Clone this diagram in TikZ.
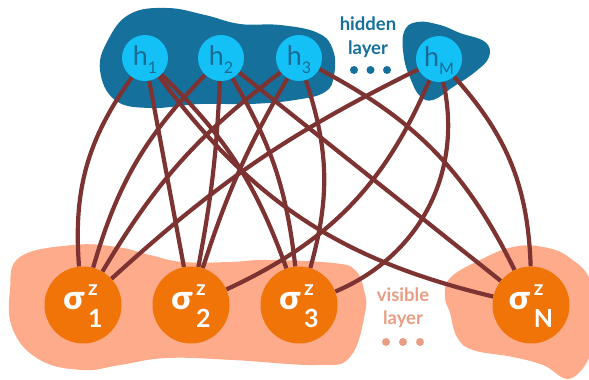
\documentclass[tikz,border=0pt]{standalone}
\usepackage{fontspec}
\setmainfont{Lato}
\newfontfamily\sigmafont{Lato Black}
\usetikzlibrary{backgrounds}
\definecolor{hidblue}{HTML}{15709C}
\definecolor{hidcyan}{HTML}{14C1F7}
\definecolor{htext}{HTML}{1B6C95}
\definecolor{vissalmon}{HTML}{FDAB8B}
\definecolor{visorange}{HTML}{F07407}
\definecolor{vistext}{HTML}{E99D82}
\definecolor{linkred}{HTML}{7D3331}
\newcommand{\hlab}[1]{\smash{\raisebox{-7pt}{\fontsize{27}{27}\selectfont h\raisebox{-8pt}{\fontsize{16}{16}\selectfont #1}}}}
\newcommand{\slab}[1]{\smash{\raisebox{-4pt}{{\sigmafont\fontsize{33}{33}\selectfont σ}\kern4pt\rlap{\raisebox{14pt}{\fontsize{21}{21}\selectfont\bfseries z}}\raisebox{-18pt}{\fontsize{25}{25}\selectfont\bfseries #1}}}}
\begin{document}
\begin{tikzpicture}[x=1pt,y=-1pt, every node/.style={inner sep=0pt},
    hidnode/.style={circle, fill=hidcyan, minimum size=46pt, text=htext},
    visnode/.style={circle, fill=visorange, minimum size=77pt, text=white},
    link/.style={draw=linkred, line width=4.2pt}]
    \useasboundingbox (0,0) rectangle (589,380);
    \node[hidnode] (h1) at (145,58) {\hlab{1}};
    \node[hidnode] (h2) at (221,58) {\hlab{2}};
    \node[hidnode] (h3) at (299,58) {\hlab{3}};
    \node[hidnode] (hM) at (439,59) {\hlab{M}};
    \node[visnode] (s1) at (83,305) {\slab{1}};
    \node[visnode] (s2) at (191,305) {\slab{2}};
    \node[visnode] (s3) at (299,305) {\slab{3}};
    \node[visnode] (sN) at (531,305) {\slab{N}};
    \node[font=\bfseries\fontsize{18.5}{24}\selectfont, text=hidblue, align=center] (hidlab) at (368,37) {hidden\\layer};
    \node[font=\bfseries\fontsize{18.5}{23}\selectfont, text=vistext, align=center] (vislab) at (403,308) {visible\\layer};
    \fill[hidblue] (354,70) circle (4pt) (370.5,70) circle (4pt) (387,70) circle (4pt);
    \fill[vistext] (386,342) circle (4pt) (403,342) circle (4pt) (420,342) circle (4pt);
    \begin{scope}[on background layer]
    \fill[hidblue] plot[smooth cycle, tension=0.7] coordinates {(100,70) (108,40) (130,14) (167,8) (205,15) (240,24) (280,25) (318,33) (333,50) (334,75) (325,92) (295,100) (250,104) (200,104) (150,108) (115,100)};
    \fill[hidblue] plot[smooth cycle, tension=0.7] coordinates {(404,32) (417,22) (440,25) (460,33) (485,42) (489,57) (475,72) (453,87) (433,100) (420,96) (411,80) (404,58)};
    \fill[vissalmon] plot[smooth cycle, tension=0.7] coordinates {(10,290) (20,257) (73,245) (117,247) (150,255) (183,262) (230,262) (267,260) (333,263) (355,270) (364,290) (365,313) (350,357) (317,365) (233,360) (167,358) (120,365) (83,370) (40,360) (13,330)};
    \fill[vissalmon] plot[smooth cycle, tension=0.7] coordinates {(445,297) (450,278) (480,260) (513,247) (543,247) (570,258) (592,285) (595,340) (572,378) (543,365) (513,357) (473,350) (457,337) (450,313)};
    \draw[link] (h1) to[bend right=20] (s1);
    \draw[link] (h1) -- (s2);
    \draw[link] (h1) to[bend left=13] (s3);
    \draw[link] (h1) to[bend right=20] (sN);
    \draw[link] (h2) to[bend right=14] (s1);
    \draw[link] (h2) to[bend left=4] (s2);
    \draw[link] (h2) to[bend left=12] (s3);
    \draw[link] (h2) -- (sN);
    \draw[link] (h3) to[bend right=11] (s1);
    \draw[link] (h3) to[bend right=6] (s2);
    \draw[link] (h3) to[bend left=17] (s3);
    \draw[link] (h3) to[bend left=18] (sN);
    \draw[link] (hM) to[bend right=8] (s1);
    \draw[link] (hM) to[bend left=21] (s2);
    \draw[link] (hM) to[bend left=40] (s3);
    \draw[link] (hM) to[bend left=20] (sN);
    \end{scope}
\end{tikzpicture}
\end{document}
